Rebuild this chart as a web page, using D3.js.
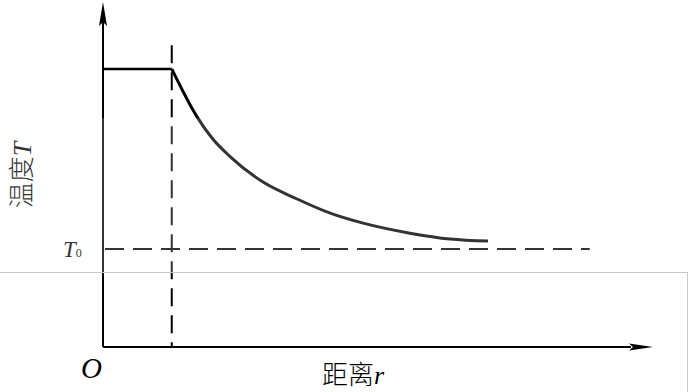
<!DOCTYPE html>
<html>
<head>
<meta charset="utf-8">
<title>温度-距离</title>
<script src="https://d3js.org/d3.v7.min.js"></script>
<style>
  body { margin: 0; background: #fff; }
  .cjk { font-family: "Noto Sans CJK SC", sans-serif; }
  .lat { font-family: "Liberation Serif", "DejaVu Serif", serif; font-style: italic; }
</style>
</head>
<body>
<div id="chart"></div>
<script>
// data (axis units, 0..10)
var rc = 1.25;             // edge of the hot zone
var coreTemp = 8.06;       // flat temperature inside rc
var t0 = 2.84;             // ambient T0
var t0End = 8.85;          // where the T0 dashed line stops
var curveR = [1.25, 1.71, 2.0, 2.31, 2.91, 3.53, 4.13, 4.73, 5.58, 6.31, 7.0];
var curveT = [8.06, 6.67, 6.02, 5.52, 4.78, 4.29, 3.88, 3.59, 3.30, 3.13, 3.07];
var axisLabels = ["距离", "温度"];

var width = 690, height = 392;

var svg = d3.select("#chart").append("svg")
    .attr("width", width)
    .attr("height", height);

var x = d3.scaleLinear().domain([0, 10]).range([103, 653]);
var y = d3.scaleLinear().domain([0, 10]).range([347, 2]);

var g = svg.append("g");

// axes
g.append("line")
    .attr("x1", x(0)).attr("y1", y(0))
    .attr("x2", x(9.6)).attr("y2", y(0))
    .attr("stroke", "#000").attr("stroke-width", 2);
g.append("line")
    .attr("x1", x(0)).attr("y1", y(0))
    .attr("x2", x(0)).attr("y2", y(9.5))
    .attr("stroke", "#000").attr("stroke-width", 2);

// arrow heads
g.append("path")
    .attr("d", "M" + x(10) + "," + y(0) + "L" + (x(10) - 24) + "," + (y(0) - 3.5) +
               "L" + (x(10) - 20) + "," + y(0) + "L" + (x(10) - 24) + "," + (y(0) + 3.5) + "Z")
    .attr("fill", "#000");
g.append("path")
    .attr("d", "M" + x(0) + "," + y(10) + "L" + (x(0) - 4) + "," + (y(10) + 24) +
               "L" + x(0) + "," + (y(10) + 20) + "L" + (x(0) + 4) + "," + (y(10) + 24) + "Z")
    .attr("fill", "#000");

// dashed guides
g.append("line")
    .attr("x1", x(rc)).attr("y1", y(8.75))
    .attr("x2", x(rc)).attr("y2", y(0))
    .attr("stroke", "#000").attr("stroke-width", 2)
    .attr("stroke-dasharray", "18,9");
g.append("line")
    .attr("x1", x(0) + 2).attr("y1", y(t0))
    .attr("x2", x(t0End)).attr("y2", y(t0))
    .attr("stroke", "#000").attr("stroke-width", 2)
    .attr("stroke-dasharray", "19,9");

// flat part + decay curve
g.append("line")
    .attr("x1", x(0)).attr("y1", y(coreTemp))
    .attr("x2", x(rc)).attr("y2", y(coreTemp))
    .attr("stroke", "#000").attr("stroke-width", 2.5);

var pts = curveR.map(function(r, i) { return [r, curveT[i]]; });
var line = d3.line()
    .x(function(d) { return x(d[0]); })
    .y(function(d) { return y(d[1]); })
    .curve(d3.curveMonotoneX);
g.append("path")
    .datum(pts)
    .attr("d", line)
    .attr("fill", "none")
    .attr("stroke", "#000")
    .attr("stroke-width", 3);

// labels
var t0Label = svg.append("text").attr("class", "lat")
    .attr("x", 63).attr("y", y(t0) + 8)
    .attr("font-size", 23);
t0Label.append("tspan").text("T");
t0Label.append("tspan").attr("font-size", 12).attr("font-style", "normal").text("0");

svg.append("text").attr("class", "lat")
    .attr("x", 81).attr("y", 378)
    .attr("font-size", 29)
    .text("O");

var xl = svg.append("text")
    .attr("x", 322).attr("y", 384)
    .attr("font-size", 26);
xl.append("tspan").attr("class", "cjk").attr("font-weight", 300).text(axisLabels[0]);
xl.append("tspan").attr("class", "lat").text("r");

var yl = svg.append("text")
    .attr("transform", "translate(31,175) rotate(-90)")
    .attr("text-anchor", "middle")
    .attr("font-size", 26);
yl.append("tspan").attr("class", "cjk").attr("font-weight", 300).text(axisLabels[1]);
yl.append("tspan").attr("class", "lat").text("T");

// scan band: faded middle strip and its edge lines
svg.append("rect")
    .attr("x", 0).attr("y", 118)
    .attr("width", width).attr("height", 154)
    .attr("fill", "#fff").attr("opacity", 0.2);
svg.append("line")
    .attr("x1", 0).attr("y1", 272.5).attr("x2", width - 2).attr("y2", 272.5)
    .attr("stroke", "#c8c8c8").attr("stroke-width", 1);
svg.append("line")
    .attr("x1", width - 2.5).attr("y1", 272).attr("x2", width - 2.5).attr("y2", height)
    .attr("stroke", "#c8c8c8").attr("stroke-width", 1);
</script>
</body>
</html>
